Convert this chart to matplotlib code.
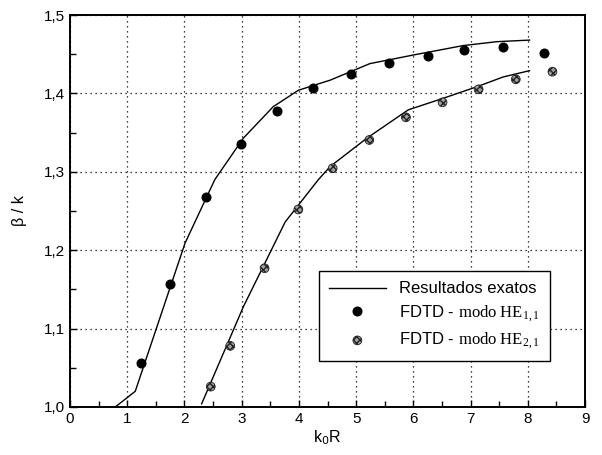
import matplotlib
matplotlib.use("Agg")
import matplotlib.pyplot as plt
from matplotlib.ticker import MultipleLocator, FuncFormatter

plt.rcParams["font.family"] = ["Liberation Sans", "DejaVu Sans"]
plt.rcParams["mathtext.fontset"] = "custom"
plt.rcParams["mathtext.rm"] = "Liberation Serif"
plt.rcParams["mathtext.it"] = "Liberation Serif:italic"

# exact solution curves (k0R, beta/k)
exact11_x = [0.79, 1.14, 2.01, 2.53, 3.03, 3.55, 3.99, 4.55, 5.24, 6.00, 6.87, 7.46, 8.03]
exact11_y = [1.000, 1.020, 1.209, 1.290, 1.343, 1.383, 1.404, 1.417, 1.438, 1.449, 1.461, 1.466, 1.468]
exact21_x = [2.30, 3.03, 3.76, 4.34, 4.55, 5.19, 5.91, 6.53, 7.11, 7.57, 8.03]
exact21_y = [1.004, 1.128, 1.236, 1.290, 1.307, 1.343, 1.379, 1.394, 1.4085, 1.421, 1.429]

# FDTD results
fdtd11_x = [1.24, 1.74, 2.38, 2.99, 3.62, 4.25, 4.91, 5.58, 6.25, 6.88, 7.56, 8.29]
fdtd11_y = [1.056, 1.1565, 1.2675, 1.336, 1.3776, 1.4065, 1.4247, 1.4384, 1.4477, 1.4554, 1.4596, 1.452]
fdtd21_x = [2.46, 2.80, 3.40, 3.99, 4.59, 5.23, 5.87, 6.51, 7.14, 7.79, 8.43]
fdtd21_y = [1.026, 1.078, 1.177, 1.252, 1.3045, 1.3406, 1.3695, 1.3886, 1.4052, 1.418, 1.4277]

fig = plt.figure(figsize=(6.02, 4.55), dpi=100)
ax = fig.add_axes([0.1163, 0.1055, 0.8555, 0.8615])

ax.plot(exact11_x, exact11_y, color="black", lw=1.0, label="Resultados exatos", zorder=3)
ax.plot(exact21_x, exact21_y, color="black", lw=1.0, zorder=3)
ax.plot(fdtd11_x, fdtd11_y, "o", color="black", ms=6.2, ls="none",
        label=r"FDTD - $\mathrm{modo\ HE}_{1,1}$", zorder=4)
ax.scatter(fdtd21_x, fdtd21_y, s=40, marker="o", facecolor="#a0a0a0",
           edgecolor="#222222", hatch="xxxxx", linewidth=0.6,
           label=r"FDTD - $\mathrm{modo\ HE}_{2,1}$", zorder=4)

ax.set_xlim(0, 9)
ax.set_ylim(1.0, 1.5)
ax.xaxis.set_major_locator(MultipleLocator(1))
ax.xaxis.set_minor_locator(MultipleLocator(0.5))
ax.yaxis.set_major_locator(MultipleLocator(0.1))
ax.yaxis.set_minor_locator(MultipleLocator(0.05))
ax.yaxis.set_major_formatter(FuncFormatter(lambda v, p: f"{v:.1f}".replace(".", ",")))
ax.tick_params(which="both", direction="in", top=False, right=False, labelsize=11)
ax.tick_params(which="major", length=5, width=1.0)
ax.tick_params(which="minor", length=4, width=1.0)
ax.grid(True, which="major", color="black", ls=(0, (1, 3)), lw=0.9)
for s in ax.spines.values():
    s.set_linewidth(1.4)

ax.set_xlabel(r"k$_\mathsf{0}$R", fontsize=11.5, labelpad=2)
ax.set_ylabel(r"β / k", fontsize=11.5, labelpad=12)

leg = ax.legend(loc="lower right", bbox_to_anchor=(0.948, 0.095), fontsize=12,
                frameon=True, fancybox=False, edgecolor="black", framealpha=1,
                handlelength=3.4, handletextpad=0.8, borderpad=0.6, labelspacing=0.4)
leg.get_frame().set_linewidth(1.0)

fig.savefig("out.png", dpi=100)
